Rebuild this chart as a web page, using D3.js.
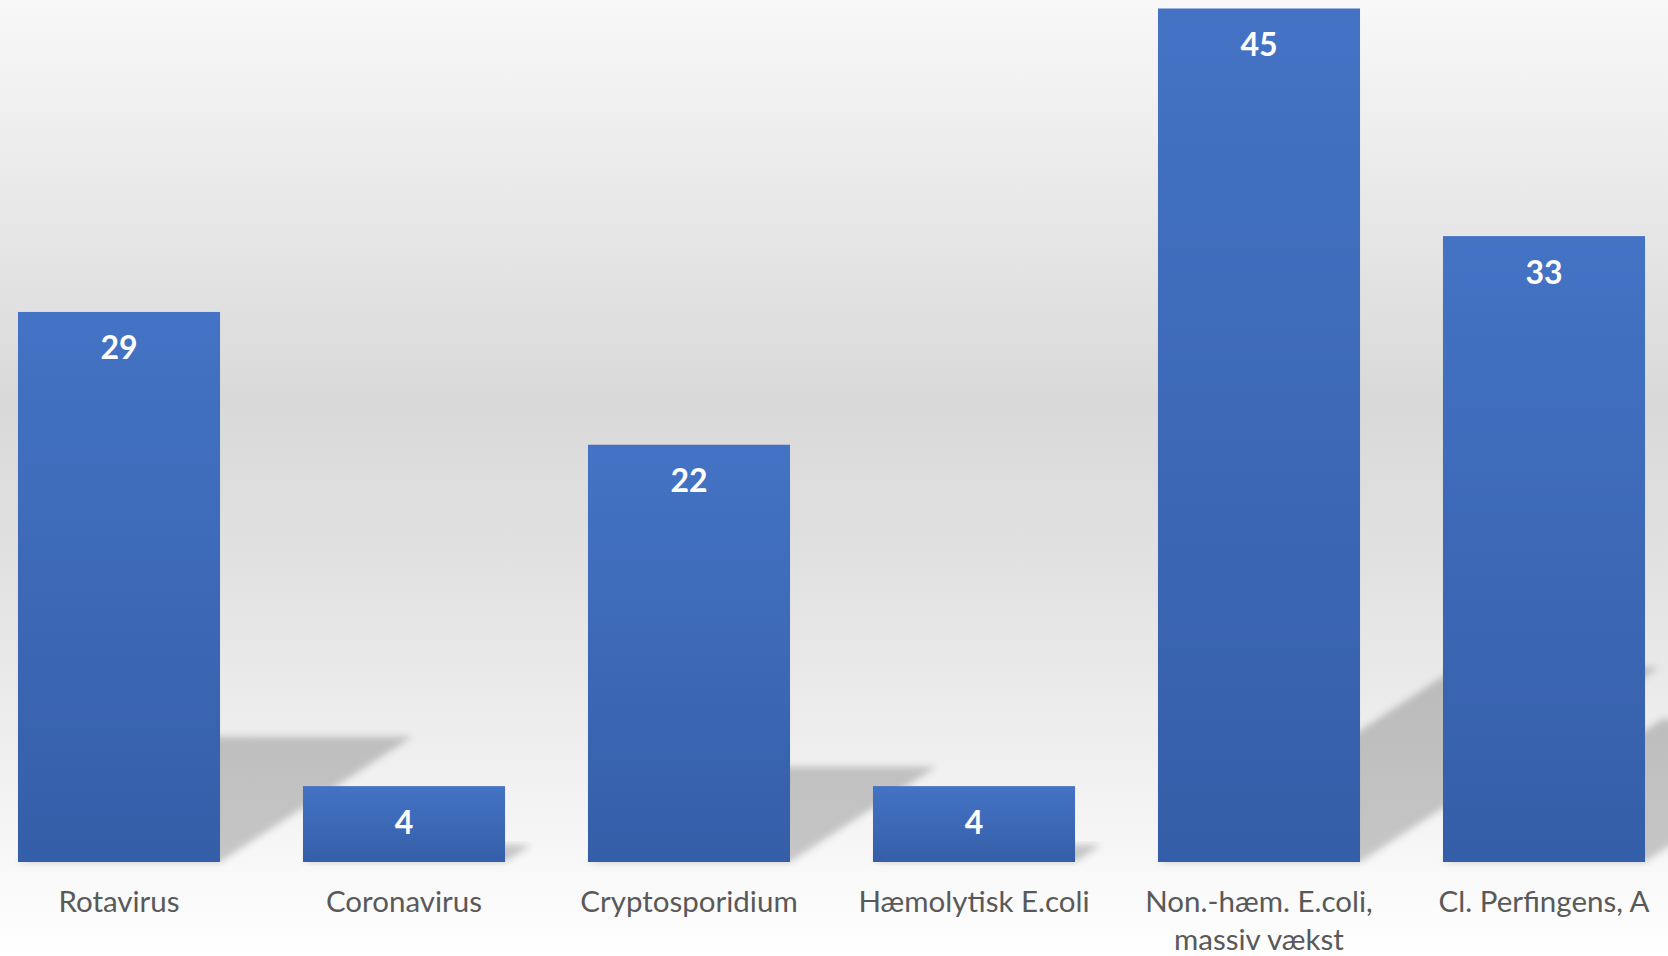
<!DOCTYPE html>
<html>
<head>
<meta charset="utf-8">
<script src="https://cdn.jsdelivr.net/npm/d3@7"></script>
<style>
html,body{margin:0;padding:0;background:#fff;overflow:hidden;}
svg{display:block;}
</style>
</head>
<body>
<svg id="chart" width="1668" height="956"></svg>
<script>
const categories = ["Rotavirus", "Coronavirus", "Cryptosporidium", "Hæmolytisk E.coli", "Non.-hæm. E.coli, massiv vækst", "Cl. Perfingens, A"];
const labelLines = [["Rotavirus"], ["Coronavirus"], ["Cryptosporidium"], ["Hæmolytisk E.coli"], ["Non.-hæm. E.coli,", "massiv vækst"], ["Cl. Perfingens, A"]];
const values = [29, 4, 22, 4, 45, 33];

const W = 1668, H = 956;
const svg = d3.select("#chart");
const defs = svg.append("defs");

const bg = defs.append("linearGradient").attr("id", "bg").attr("x1", 0).attr("y1", 0).attr("x2", 0).attr("y2", 1);
[[0, "#f8f8f8"], [0.42, "#d9d9d9"], [0.6, "#e2e2e2"], [0.8, "#f0f0f0"], [1, "#ffffff"]].forEach(([o, c]) =>
  bg.append("stop").attr("offset", o).attr("stop-color", c));

const barG = defs.append("linearGradient").attr("id", "barg").attr("x1", 0).attr("y1", 0).attr("x2", 0).attr("y2", 1);
barG.append("stop").attr("offset", 0).attr("stop-color", "#4473c5");
barG.append("stop").attr("offset", 1).attr("stop-color", "#355ea8");

const blur = defs.append("filter").attr("id", "blur").attr("x", "-20%").attr("y", "-20%").attr("width", "140%").attr("height", "140%");
blur.append("feGaussianBlur").attr("stdDeviation", 3.5);

svg.append("rect").attr("width", W).attr("height", H).attr("fill", "url(#bg)");

const x = d3.scaleBand().domain(categories).range([-23.5, 1686.5]).paddingInner(0.291).paddingOuter(0.1455);
const y = d3.scaleLinear().domain([0, 45]).range([862, 8.5]);

const data = categories.map((c, i) => ({c, v: values[i], lines: labelLines[i]}));

// perspective shadows
svg.append("g").selectAll("path").data(data).join("path")
  .attr("filter", "url(#blur)")
  .attr("fill", "#000").attr("fill-opacity", 0.2)
  .attr("d", d => {
    const x0 = x(d.c), x1 = x0 + x.bandwidth(), b = y(0);
    const h = y(0) - y(d.v);
    const sx = h * 0.35, sy = h * 0.228;
    return `M${x0},${b}L${x1},${b}L${x1 + sx},${b - sy}L${x0 + sx},${b - sy}Z`;
  });

// bars
svg.append("g").selectAll("rect").data(data).join("rect")
  .attr("x", d => x(d.c)).attr("width", x.bandwidth())
  .attr("y", d => y(d.v)).attr("height", d => y(0) - y(d.v))
  .attr("fill", "url(#barg)");

// value labels
svg.append("g").selectAll("text").data(data).join("text")
  .attr("x", d => x(d.c) + x.bandwidth() / 2)
  .attr("y", d => y(d.v) + 35)
  .attr("text-anchor", "middle").attr("dominant-baseline", "central")
  .attr("font-family", "Lato, sans-serif").attr("font-weight", "bold").attr("font-size", 32)
  .attr("fill", "#ffffff")
  .text(d => d.v);

// category labels
const lab = svg.append("g").selectAll("text").data(data).join("text")
  .attr("text-anchor", "middle")
  .attr("font-family", "Lato, sans-serif").attr("font-size", 29.5)
  .attr("fill", "#595959");
lab.selectAll("tspan").data(d => d.lines.map(l => ({l, cx: x(d.c) + x.bandwidth() / 2}))).join("tspan")
  .attr("x", d => d.cx)
  .attr("y", (d, i) => 912 + i * 38)
  .text(d => d.l);
</script>
</body>
</html>
